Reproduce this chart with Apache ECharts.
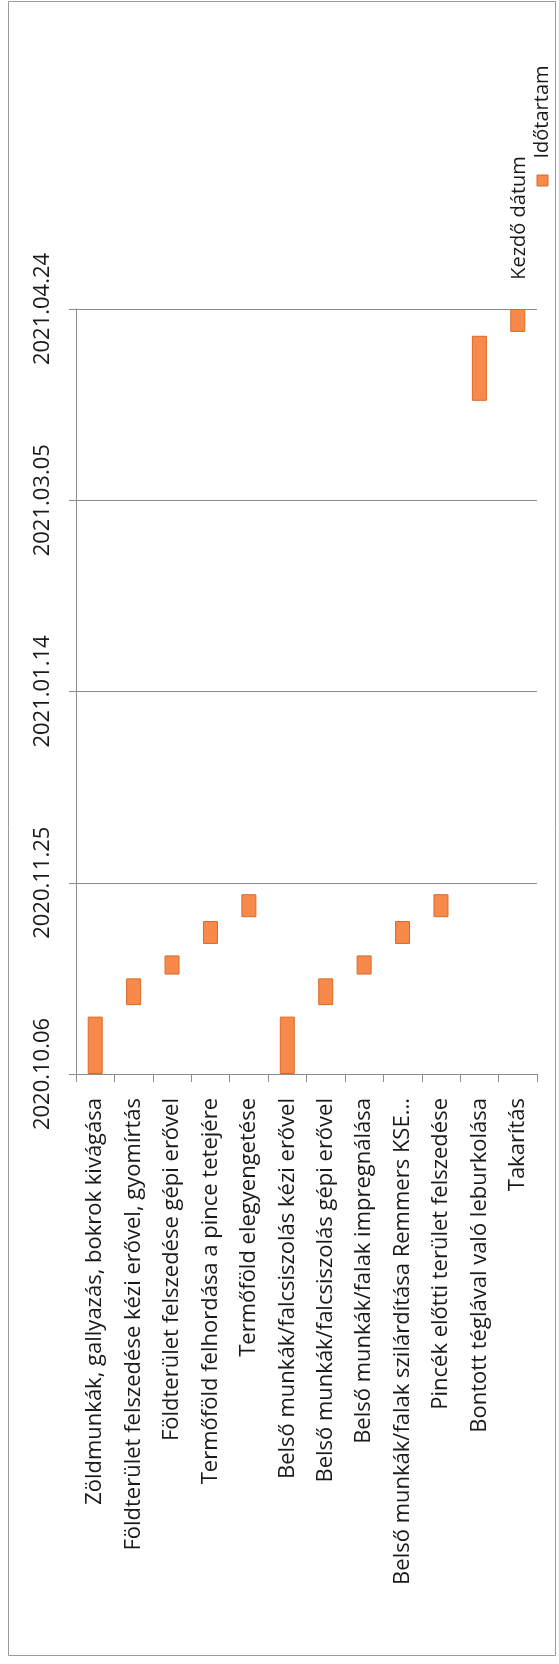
<!DOCTYPE html>
<html>
<head>
<meta charset="utf-8">
<script src="https://cdn.jsdelivr.net/npm/echarts@6/dist/echarts.min.js"></script>
<style>
html,body{margin:0;padding:0;background:#ffffff;}
#chart{width:559px;height:1664px;}
</style>
</head>
<body>
<div id="chart"></div>
<script>
const categories = [
  'Zöldmunkák, gallyazás, bokrok kivágása',
  'Földterület felszedése kézi erővel, gyomírtás',
  'Földterület felszedése gépi erővel',
  'Termőföld felhordása a pince tetejére',
  'Termőföld elegyengetése',
  'Belső munkák/falcsiszolás kézi erővel',
  'Belső munkák/falcsiszolás gépi erővel',
  'Belső munkák/falak impregnálása',
  'Belső munkák/falak szilárdítása Remmers KSE...',
  'Pincék előtti terület felszedése',
  'Bontott téglával való leburkolása',
  'Takarítás'
];
const startDates = [
  '2020.10.06', '2020.10.24', '2020.11.01', '2020.11.09', '2020.11.16',
  '2020.10.06', '2020.10.24', '2020.11.01', '2020.11.09', '2020.11.16',
  '2021.03.31', '2021.04.18'
];
const durations = [15, 7, 5, 6, 6, 15, 7, 5, 6, 6, 17, 6];
const tickLabels = ['2020.10.06', '2020.11.25', '2021.01.14', '2021.03.05', '2021.04.24'];
const seriesNames = ['Kezdő dátum', 'Időtartam'];

function dayNumber(s) {
  const p = s.split('.').map(Number);
  return Date.UTC(p[0], p[1] - 1, p[2]) / 86400000;
}
const baseDay = dayNumber(tickLabels[0]);
const axisMax = dayNumber(tickLabels[tickLabels.length - 1]) - baseDay;
const tickStep = dayNumber(tickLabels[1]) - baseDay;
const startOffsets = startDates.map(d => dayNumber(d) - baseDay);

const FONT = '"Open Sans", "DejaVu Sans", sans-serif';
const TEXT = '#1a1a1a';
const LINE = '#8c8c8c';
const BAR = '#F7894A';
const BAR_EDGE = '#D9692B';

const chart = echarts.init(document.getElementById('chart'), null, {renderer: 'canvas'});
chart.setOption({
  animation: false,
  backgroundColor: '#ffffff',
  grid: {left: 76, right: 22, top: 309, bottom: 590, containLabel: false},
  xAxis: {
    type: 'category',
    data: categories,
    position: 'bottom',
    axisLine: {show: true, lineStyle: {color: LINE, width: 1}},
    axisTick: {show: true, length: 8, lineStyle: {color: LINE}},
    axisLabel: {
      interval: 0, rotate: 90, margin: 24,
      fontFamily: FONT, fontSize: 22, color: TEXT
    },
    splitLine: {show: false}
  },
  yAxis: {
    type: 'value',
    min: 0,
    max: axisMax,
    interval: tickStep,
    axisLine: {show: true, lineStyle: {color: LINE, width: 1}},
    axisTick: {show: true, length: 7, lineStyle: {color: LINE}},
    splitLine: {show: true, lineStyle: {color: LINE, width: 1}},
    axisLabel: {
      rotate: 90, margin: 22,
      fontFamily: FONT, fontSize: 22, color: TEXT,
      formatter: v => tickLabels[Math.round(v / tickStep)] || ''
    }
  },
  series: [
    {
      name: seriesNames[0], type: 'bar', stack: 'gantt',
      data: startOffsets, barWidth: 15,
      itemStyle: {color: 'rgba(0,0,0,0)'}, silent: true
    },
    {
      name: seriesNames[1], type: 'bar', stack: 'gantt',
      data: durations, barWidth: 15,
      itemStyle: {color: BAR, borderColor: BAR_EDGE, borderWidth: 1}
    }
  ],
  graphic: [
    {
      type: 'rect', z: 0, silent: true,
      shape: {x: 8.5, y: 1.5, width: 547, height: 1654},
      style: {fill: 'none', stroke: '#9a9a9a', lineWidth: 1}
    },
    {
      type: 'text', x: 519, y: 218, rotation: Math.PI / 2, silent: true,
      style: {text: seriesNames[0], font: '20px ' + FONT, fill: TEXT,
              textAlign: 'center', textVerticalAlign: 'middle', align: 'center', verticalAlign: 'middle'}
    },
    {
      type: 'text', x: 542, y: 112, rotation: Math.PI / 2, silent: true,
      style: {text: seriesNames[1], font: '20px ' + FONT, fill: TEXT,
              textAlign: 'center', textVerticalAlign: 'middle', align: 'center', verticalAlign: 'middle'}
    },
    {
      type: 'rect', silent: true,
      shape: {x: 537, y: 175, width: 11, height: 11},
      style: {fill: BAR, stroke: BAR_EDGE, lineWidth: 1}
    }
  ]
});
</script>
</body>
</html>
